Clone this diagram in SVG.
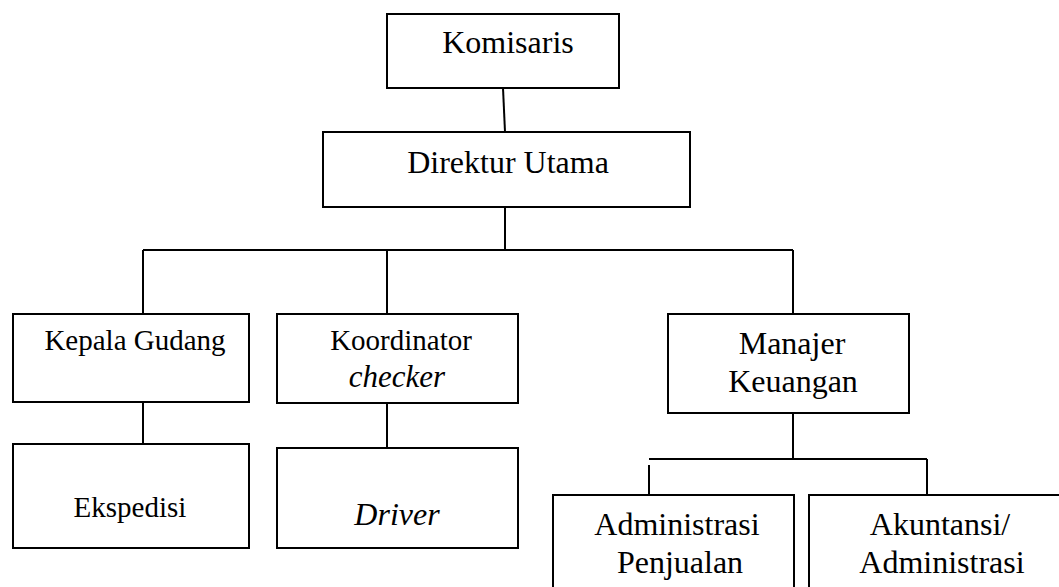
<svg xmlns="http://www.w3.org/2000/svg" width="1059" height="587" viewBox="0 0 1059 587">
  <style>
    .box { fill: #ffffff; stroke: #000000; stroke-width: 2; }
    .link { fill: none; stroke: #000000; stroke-width: 2; }
    .t { font-family: "Liberation Serif", "Times New Roman", serif; fill: #000000; text-anchor: middle; }
    .lg { font-size: 32px; }
    .md { font-size: 29px; }
    .it { font-style: italic; }
  </style>
  <rect x="0" y="0" width="1059" height="587" fill="#ffffff"/>

  <!-- connectors -->
  <g id="connectors">
    <line class="link" x1="503" y1="88" x2="505" y2="132"/>
    <line class="link" x1="505" y1="207" x2="505" y2="250"/>
    <line class="link" x1="143" y1="250" x2="793" y2="250"/>
    <line class="link" x1="143" y1="250" x2="143" y2="314"/>
    <line class="link" x1="387" y1="250" x2="387" y2="314"/>
    <line class="link" x1="793" y1="250" x2="793" y2="314"/>
    <line class="link" x1="143" y1="399" x2="143" y2="444"/>
    <line class="link" x1="387" y1="403" x2="387" y2="448"/>
    <line class="link" x1="793" y1="413" x2="793" y2="459"/>
    <line class="link" x1="649" y1="459" x2="927" y2="459"/>
    <line class="link" x1="649" y1="465" x2="649" y2="495"/>
    <line class="link" x1="927" y1="459" x2="927" y2="495"/>
  </g>

  <g id="komisaris">
    <rect class="box" x="387" y="14" width="232" height="74"/>
    <text class="t lg" x="508" y="53">Komisaris</text>
  </g>

  <g id="direktur-utama">
    <rect class="box" x="323" y="132" width="367" height="75"/>
    <text class="t lg" x="508" y="173">Direktur Utama</text>
  </g>

  <g id="kepala-gudang">
    <rect class="box" x="13" y="314" width="236" height="88"/>
    <text class="t md" x="135" y="350">Kepala Gudang</text>
  </g>

  <g id="koordinator-checker">
    <rect class="box" x="277" y="314" width="241" height="89"/>
    <text class="t md" x="401" y="350">Koordinator</text>
    <text class="t lg it" x="397" y="387" style="font-size:31px">checker</text>
  </g>

  <g id="manajer-keuangan">
    <rect class="box" x="668" y="314" width="241" height="99"/>
    <text class="t lg" x="792" y="354">Manajer</text>
    <text class="t lg" x="793" y="392">Keuangan</text>
  </g>

  <g id="ekspedisi">
    <rect class="box" x="13" y="444" width="236" height="104"/>
    <text class="t md" x="130" y="517">Ekspedisi</text>
  </g>

  <g id="driver">
    <rect class="box" x="277" y="448" width="241" height="100"/>
    <text class="t lg it" x="397" y="525">Driver</text>
  </g>

  <g id="administrasi-penjualan">
    <rect class="box" x="553" y="495" width="241" height="110"/>
    <text class="t lg" x="677" y="535">Administrasi</text>
    <text class="t lg" x="680" y="573">Penjualan</text>
  </g>

  <g id="akuntansi-administrasi">
    <rect class="box" x="809" y="495" width="270" height="110"/>
    <text class="t lg" x="940" y="535">Akuntansi/</text>
    <text class="t lg" x="942" y="573">Administrasi</text>
  </g>
</svg>
